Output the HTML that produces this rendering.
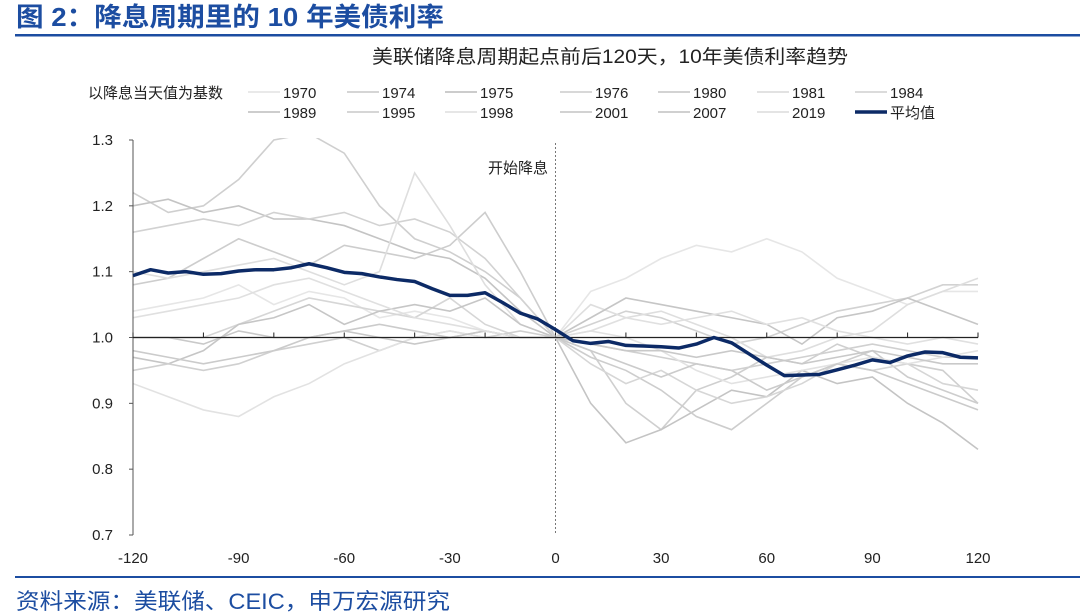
<!DOCTYPE html>
<html><head><meta charset="utf-8"><style>
body{margin:0;background:#fff;width:1080px;height:616px;overflow:hidden;font-family:"Liberation Sans","Noto Sans CJK SC",sans-serif;}
</style></head><body>
<svg width="1080" height="616" xmlns="http://www.w3.org/2000/svg" style="position:absolute;left:0;top:0" font-family="Liberation Sans, Noto Sans CJK SC, sans-serif">
<text x="16" y="26" font-size="26" font-weight="bold" fill="#1c4da1" textLength="428" lengthAdjust="spacingAndGlyphs">图 2：降息周期里的 10 年美债利率</text>
<rect x="15" y="34" width="1065" height="2.5" fill="#1c4da1"/>
<text x="610" y="63" font-size="19" text-anchor="middle" fill="#222" textLength="476" lengthAdjust="spacingAndGlyphs">美联储降息周期起点前后120天，10年美债利率趋势</text>
<g id="legend" font-size="15" fill="#222"></g>
<defs><clipPath id="pc"><rect x="133" y="138" width="850" height="398"/></clipPath></defs>
<g id="series" clip-path="url(#pc)"></g>
<g id="axes"></g>
<rect x="15" y="576" width="1065" height="2" fill="#1c4da1"/>
<text x="16" y="609" font-size="22" fill="#1c4da1" textLength="434" lengthAdjust="spacingAndGlyphs">资料来源：美联储、CEIC，申万宏源研究</text>
</svg>
<script>
const days10=[-120,-110,-100,-90,-80,-70,-60,-50,-40,-30,-20,-10,0,10,20,30,40,50,60,70,80,90,100,110,120];
const meanDays=[-120,-115,-110,-105,-100,-95,-90,-85,-80,-75,-70,-65,-60,-55,-50,-45,-40,-35,-30,-25,-20,-15,-10,-5,0,5,10,15,20,25,30,35,40,45,50,55,60,65,70,75,80,85,90,95,100,105,110,115,120];
const meanValues=[1.094,1.103,1.098,1.100,1.096,1.097,1.101,1.103,1.103,1.106,1.112,1.106,1.099,1.097,1.092,1.088,1.085,1.074,1.064,1.064,1.068,1.053,1.037,1.028,1.012,0.995,0.991,0.994,0.988,0.987,0.986,0.984,0.990,1.000,0.992,0.975,0.958,0.942,0.943,0.944,0.951,0.958,0.966,0.962,0.972,0.978,0.977,0.970,0.969];
const seriesNames=['1970','1974','1975','1976','1980','1981','1984','1989','1995','1998','2001','2007','2019'];
const s1970=[1.04,1.05,1.06,1.08,1.05,1.07,1.06,1.03,1.04,1.03,1.01,1.00,1.00,1.07,1.09,1.12,1.14,1.13,1.15,1.13,1.09,1.07,1.05,1.07,1.07];
const s1974=[1.22,1.19,1.20,1.24,1.30,1.31,1.28,1.20,1.15,1.13,1.10,1.06,1.00,0.98,0.90,0.86,0.92,0.94,0.97,0.96,0.99,0.97,0.96,0.95,0.90];
const s1975=[1.20,1.21,1.19,1.20,1.18,1.18,1.17,1.15,1.13,1.12,1.09,1.04,1.00,0.90,0.84,0.86,0.89,0.92,0.91,0.95,0.93,0.94,0.90,0.87,0.83];
const s1976=[1.16,1.17,1.18,1.17,1.19,1.18,1.19,1.17,1.18,1.16,1.12,1.06,1.00,1.02,1.04,1.03,1.01,0.99,1.00,1.02,1.04,1.05,1.06,1.08,1.08];
const s1980=[1.08,1.09,1.12,1.15,1.13,1.11,1.14,1.13,1.12,1.14,1.19,1.10,1.00,0.97,0.95,0.92,0.88,0.86,0.90,0.94,0.96,0.98,0.94,0.92,0.90];
const s1981=[1.10,1.09,1.10,1.11,1.12,1.10,1.08,1.10,1.25,1.17,1.08,1.02,1.00,1.05,1.03,1.04,1.02,1.00,0.97,0.98,1.00,1.01,1.05,1.07,1.09];
const s1984=[1.00,1.00,1.00,1.02,1.04,1.06,1.05,1.04,1.03,1.06,1.02,1.00,1.00,0.96,0.93,0.95,0.92,0.90,0.91,0.93,0.96,0.95,0.96,0.93,0.92];
const s1989=[0.97,0.96,0.98,1.02,1.03,1.05,1.02,1.04,1.05,1.04,1.06,1.02,1.00,1.03,1.06,1.05,1.04,1.03,1.02,0.99,1.03,1.04,1.06,1.04,1.02];
const s1995=[0.95,0.96,0.95,0.96,0.98,0.99,1.00,0.98,1.00,1.01,1.00,1.01,1.00,0.99,0.98,0.97,0.96,0.95,0.96,0.97,0.98,0.99,0.98,0.97,0.97];
const s1998=[0.93,0.91,0.89,0.88,0.91,0.93,0.96,0.98,1.00,1.01,1.00,1.00,1.00,1.01,1.00,0.98,0.95,0.93,0.94,0.95,0.96,0.97,0.96,0.97,0.98];
const s2001=[0.98,0.97,0.96,0.97,0.98,1.00,1.01,1.02,1.01,1.00,1.01,1.00,1.00,0.98,0.96,0.94,0.96,0.95,0.92,0.94,0.96,0.95,0.93,0.91,0.89];
const s2007=[1.00,1.00,0.99,1.01,1.00,1.00,1.01,1.00,0.99,1.00,1.01,1.00,1.00,0.99,0.98,0.98,0.97,0.98,0.97,0.96,0.97,0.98,0.97,0.96,0.96];
const s2019=[1.03,1.04,1.05,1.06,1.08,1.09,1.07,1.05,1.03,1.02,1.01,1.00,1.00,1.01,1.03,1.02,1.03,1.04,1.02,1.03,1.01,1.00,0.99,1.00,0.99];
const yTicks=[0.7,0.8,0.9,1.0,1.1,1.2,1.3];
const xTickLabels=[-120,-90,-60,-30,0,30,60,90,120];
const xMinor=[-120,-100,-80,-60,-40,-20,0,20,40,60,80,100,120];

const NS='http://www.w3.org/2000/svg';
const X=d=>133+(d+120)*(978-133)/240;
const Y=v=>140+(1.3-v)*(535-140)/0.6;
function mk(t,a,p){const e=document.createElementNS(NS,t);for(const k in a)e.setAttribute(k,a[k]);p.appendChild(e);return e;}
const all=[s1970,s1974,s1975,s1976,s1980,s1981,s1984,s1989,s1995,s1998,s2001,s2007,s2019];
const cols=['#e6e6e6','#cfcfcf','#c4c4c4','#d2d2d2','#cdcdcd','#dedede','#d6d6d6','#c6c6c6','#d0d0d0','#e2e2e2','#cbcbcb','#c9c9c9','#e0e0e0'];
const sg=document.getElementById('series');
all.forEach((s,i)=>{
  const p=mk('polyline',{points:s.map((v,j)=>X(days10[j])+','+Y(v)).join(' '),fill:'none',stroke:cols[i],'stroke-width':1.6},sg);
  
  
});
const ax=document.getElementById('axes');
let e=mk('line',{x1:133,y1:140,x2:133,y2:535,stroke:'#555','stroke-width':1},ax);

yTicks.forEach(v=>{
  mk('line',{x1:129,y1:Y(v),x2:133,y2:Y(v),stroke:'#555'},ax);
  const t=mk('text',{x:113,y:Y(v)+5,'font-size':15,'text-anchor':'end',fill:'#222'},ax);t.textContent=v.toFixed(1);
  
});
e=mk('line',{x1:133,y1:Y(1),x2:978,y2:Y(1),stroke:'#222','stroke-width':1.2},ax);

xMinor.forEach(d=>mk('line',{x1:X(d),y1:Y(1)-5,x2:X(d),y2:Y(1),stroke:'#222'},ax));
xTickLabels.forEach(d=>{
  const t=mk('text',{x:X(d),y:563,'font-size':15,'text-anchor':'middle',fill:'#222'},ax);t.textContent=d;
  
});
e=mk('line',{x1:X(0),y1:143,x2:X(0),y2:535,stroke:'#777','stroke-width':1,'stroke-dasharray':'2,2'},ax);

e=mk('text',{x:518,y:173,'font-size':15,'text-anchor':'middle',fill:'#222'},ax);e.textContent='开始降息';

e=mk('polyline',{points:meanValues.map((v,j)=>X(meanDays[j])+','+Y(v)).join(' '),fill:'none',stroke:'#0c2a66','stroke-width':3.5,'stroke-linejoin':'round'},ax);

const lg=document.getElementById('legend');
e=mk('text',{x:88,y:98,'font-size':15},lg);e.textContent='以降息当天值为基数';

const lx=[248,347,445,560,658,757,855];
const row1=['1970','1974','1975','1976','1980','1981','1984'];
const row2=['1989','1995','1998','2001','2007','2019','平均值'];
[row1,row2].forEach((r,ri)=>r.forEach((n,i)=>{
  const y=ri?112:92;const idx=seriesNames.indexOf(n);
  const g=mk('g',{},lg);
  
  
  mk('line',{x1:lx[i],y1:y,x2:lx[i]+32,y2:y,stroke:idx<0?'#0c2a66':cols[idx],'stroke-width':idx<0?3.5:1.8},g);
  const t=mk('text',{x:lx[i]+35,y:y+6,'font-size':15},g);t.textContent=n;
}));
</script>
</body></html>
